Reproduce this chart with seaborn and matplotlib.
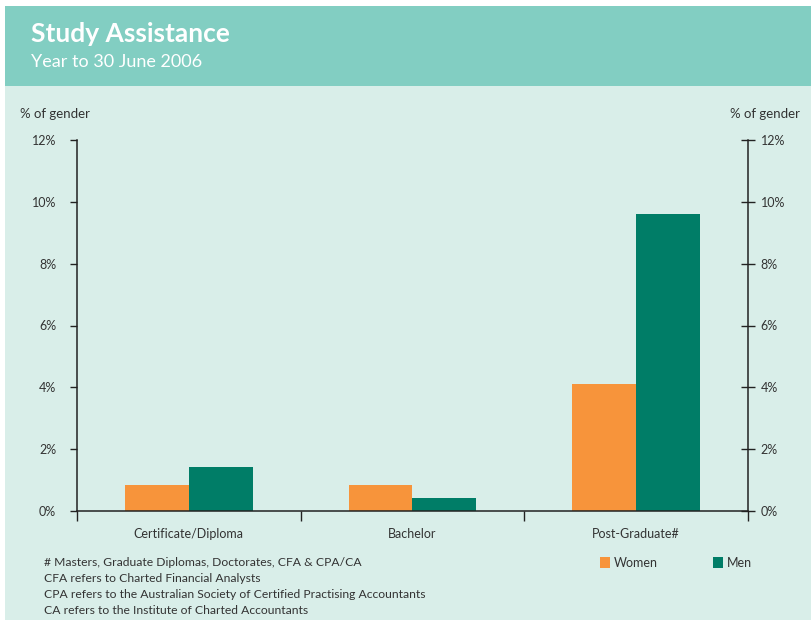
import matplotlib
matplotlib.use("Agg")
import matplotlib.pyplot as plt
from matplotlib.patches import Rectangle
import seaborn as sns
import pandas as pd

categories = ["Certificate/Diploma", "Bachelor", "Post-Graduate#"]
women = [0.84, 0.84, 4.10]
men = [1.42, 0.42, 9.62]
yticks = [0, 2, 4, 6, 8, 10, 12]
footnotes = [
    "# Masters, Graduate Diplomas, Doctorates, CFA & CPA/CA",
    "CFA refers to Charted Financial Analysts",
    "CPA refers to the Australian Society of Certified Practising Accountants",
    "CA refers to the Institute of Charted Accountants",
]

df = pd.DataFrame({
    "category": categories * 2,
    "gender": ["Women"] * 3 + ["Men"] * 3,
    "value": women + men,
})

sns.set_theme(style="white")
plt.rcParams["font.family"] = ["Lato", "DejaVu Sans"]

BG = "#D9EEE9"
HEADER = "#82CEC2"
ORANGE = "#F7943B"
GREEN = "#007D67"
TXT = "#333333"

W, H = 812, 620
fig = plt.figure(figsize=(W / 100, H / 100), dpi=100)
fig.patch.set_facecolor("white")
fig.patches.append(Rectangle((5 / W, 0), 1, 1 - 86 / H, transform=fig.transFigure,
                             facecolor=BG, edgecolor="none", zorder=-10))
fig.patches.append(Rectangle((5 / W, 1 - 86 / H), 1, 80 / H, transform=fig.transFigure,
                             facecolor=HEADER, edgecolor="none", zorder=-10))

fig.text(31 / W, 1 - 34 / H, "Study Assistance", fontsize=19, fontweight="bold",
         color="white", va="center", ha="left")
fig.text(31 / W, 1 - 62 / H, "Year to 30 June 2006", fontsize=13,
         color="white", va="center", ha="left")

ax = fig.add_axes([77 / W, 1 - 511 / H, (748 - 77) / W, (511 - 140) / H])
ax.set_zorder(5)
ax.set_facecolor("none")
sns.barplot(data=df, x="category", y="value", hue="gender", order=categories,
            hue_order=["Women", "Men"], palette=[ORANGE, GREEN], width=0.57,
            gap=0, saturation=1, linewidth=0, edgecolor="none", ax=ax, legend=False)

ax.set_xlim(-0.5, 2.5)
ax.set_ylim(0, 12)
ax.set_xlabel("")
ax.set_ylabel("")
for s in ["top", "right"]:
    ax.spines[s].set_visible(False)
for s in ["left", "bottom"]:
    ax.spines[s].set_color("#222222")
    ax.spines[s].set_linewidth(1.1)

ax.set_yticks(yticks)
ax.set_yticklabels([f"{v}%" for v in yticks], fontsize=9, color=TXT)
ax.tick_params(axis="y", left=True, direction="out", length=5, width=1, color="#222222", pad=10)

ax.set_xticks([-0.5, 0.5, 1.5, 2.5])
ax.set_xticklabels([])
ax.tick_params(axis="x", which="major", bottom=True, direction="out", length=7, width=1,
               color="#222222")
ax.set_xticks([0, 1, 2], minor=True)
ax.set_xticklabels(categories, minor=True, fontsize=9, color=TXT)
ax.tick_params(axis="x", which="minor", bottom=True, length=0, pad=12)

ax2 = ax.twinx()
ax2.set_zorder(6)
ax2.set_ylim(0, 12)
ax2.set_facecolor("none")
for s in ["top", "left", "bottom"]:
    ax2.spines[s].set_visible(False)
ax2.spines["right"].set_color("#222222")
ax2.spines["right"].set_linewidth(1.1)
ax2.set_yticks(yticks)
ax2.set_yticklabels([f"{v}%" for v in yticks], fontsize=9, color=TXT)
ax2.tick_params(axis="y", right=True, direction="inout", length=10, width=1,
                color="#222222", pad=4)

fig.text(20 / W, 1 - 114 / H, "% of gender", fontsize=9.5, color=TXT, va="center", ha="left")
fig.text(800 / W, 1 - 114 / H, "% of gender", fontsize=9.5, color=TXT, va="center", ha="right")

handles = [Rectangle((0, 0), 1, 1, facecolor=ORANGE, edgecolor="none"),
           Rectangle((0, 0), 1, 1, facecolor=GREEN, edgecolor="none")]
fig.legend(handles, ["Women", "Men"], loc="center left",
           bbox_to_anchor=(600 / W, 1 - 563 / H), ncol=2, frameon=False,
           fontsize=9, handlelength=0.8, handleheight=1.0, handletextpad=0.3,
           columnspacing=4.4, borderpad=0, borderaxespad=0, labelcolor=TXT)

for i, t in enumerate(footnotes):
    fig.text(44 / W, 1 - (562 + 16 * i) / H, t, fontsize=8.7, color=TXT,
             va="center", ha="left")

fig.savefig("out.png", dpi=100, facecolor=fig.get_facecolor())
